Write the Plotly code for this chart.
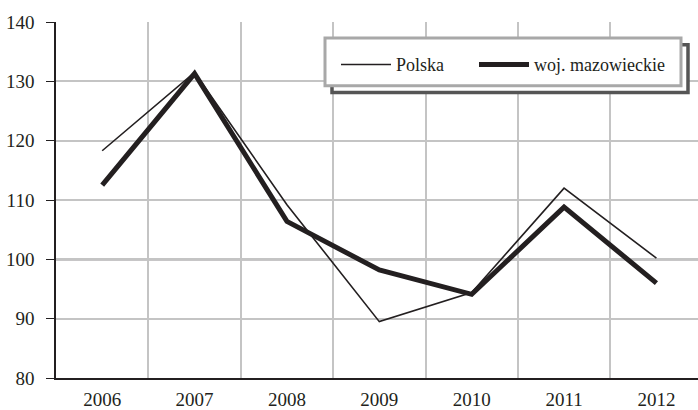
import plotly.graph_objects as go

years = ["2006", "2007", "2008", "2009", "2010", "2011", "2012"]
polska = [118.3, 131.5, 109.2, 89.5, 94.4, 112.0, 100.2]
mazowieckie = [112.5, 131.3, 106.4, 98.2, 94.1, 108.8, 96.0]
y_ticks = [80, 90, 100, 110, 120, 130, 140]

INK = "#231f20"
FONT = "Liberation Serif"

fig = go.Figure()
fig.add_trace(go.Scatter(x=years, y=polska, mode="lines", name="Polska",
                         line=dict(color=INK, width=1.6), legend="legend"))
fig.add_trace(go.Scatter(x=years, y=mazowieckie, mode="lines", name="woj. mazowieckie",
                         line=dict(color=INK, width=5), legend="legend2"))

W, H = 698, 410
L, R, T, B = 56, 0, 22, 30
pw, ph = W - L - R, H - T - B

def px(x):
    return (x - L) / pw

def py(y):
    return (H - B - y) / ph

# reference line at 100
fig.add_shape(type="line", xref="paper", yref="y", x0=0, x1=1, y0=100, y1=100,
              line=dict(color=INK, width=1.6), layer="below")
# legend box with shadow
fig.add_shape(type="rect", xref="paper", yref="paper",
              x0=px(332), x1=px(688), y0=py(93), y1=py(45),
              line=dict(color="#555555", width=3.5), fillcolor="white", layer="above")
fig.add_shape(type="rect", xref="paper", yref="paper",
              x0=px(325), x1=px(681), y0=py(86), y1=py(38),
              line=dict(color="#a8a8a8", width=3), fillcolor="white", layer="above")

leg_common = dict(orientation="h", xanchor="left", yanchor="middle",
                  bgcolor="rgba(0,0,0,0)", font=dict(family=FONT, size=18, color=INK),
                  itemwidth=50)

fig.update_layout(
    width=W, height=H,
    margin=dict(l=L, r=R, t=T, b=B),
    plot_bgcolor="white", paper_bgcolor="white",
    font=dict(family=FONT, size=19, color=INK),
    showlegend=True,
    legend=dict(x=px(336), y=py(65), **leg_common),
    legend2=dict(x=px(474), y=py(65), **leg_common),
    xaxis=dict(type="category", range=[-0.5, 6.45], tickson="boundaries",
               showgrid=True, gridcolor="#c4c4c4", gridwidth=1.5,
               showline=True, linecolor=INK, linewidth=1.6,
               ticks="", ticklabelstandoff=3,
               tickfont=dict(family=FONT, size=19, color=INK)),
    yaxis=dict(range=[80, 140], tickvals=y_ticks, ticktext=[str(v) for v in y_ticks],
               showgrid=True, gridcolor="#c4c4c4", gridwidth=1.5,
               showline=True, linecolor=INK, linewidth=1.6,
               ticks="outside", ticklen=8, tickwidth=1.2, tickcolor=INK,
               ticklabelstandoff=8,
               zeroline=False, tickfont=dict(family=FONT, size=19, color=INK)),
)

fig.write_html("out.html", post_script="document.body.style.margin='0';",
               config={"displayModeBar": False})
